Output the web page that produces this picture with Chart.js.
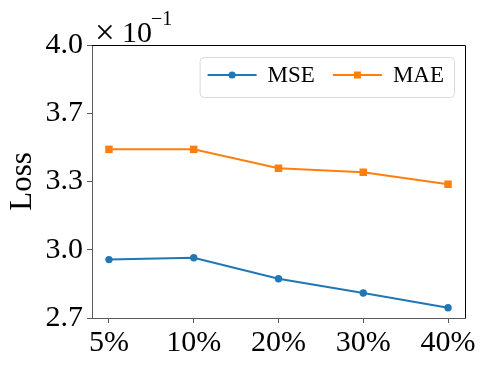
<!doctype html>
<html lang="en">
<head>
  <meta charset="utf-8">
  <title>Loss vs ratio</title>
  <style type="text/css">
    html, body {
      margin: 0;
      padding: 0;
      background: #fff;
    }
    #wrap {
      width: 488px;
      height: 366px;
    }
  </style>
</head>
<body>
  <div id="wrap">
    <canvas id="chart_loss" width="488" height="366"></canvas>
  </div>

  <script src="https://cdn.jsdelivr.net/npm/chart.js"></script>
  <script>
    const xLabels = ['5%', '10%', '20%', '30%', '40%'];
    const mseValues = [2.978, 2.987, 2.887, 2.819, 2.749];
    const maeValues = [3.503, 3.503, 3.413, 3.394, 3.337];
    const yTicks = [2.7, 3.025, 3.35, 3.675, 4.0];
    const yTickLabels = ['2.7', '3.0', '3.3', '3.7', '4.0'];

    const serif = "'Liberation Serif', 'Times New Roman', serif";
    const spineGrey = '#5a5a5a';

    function toPoints(values) {
      return values.map(function (v, i) { return { x: i, y: v }; });
    }

    // top/right spines, the x10^-1 offset text and a matplotlib-like legend
    const decorations = {
      id: 'decorations',
      afterDraw(chart) {
        const ctx = chart.ctx;
        const area = chart.chartArea;
        ctx.save();

        ctx.strokeStyle = '#000';
        ctx.lineWidth = 1;
        ctx.beginPath();
        ctx.moveTo(area.left, area.top + 0.5);
        ctx.lineTo(area.right + 0.5, area.top + 0.5);
        ctx.lineTo(area.right + 0.5, area.bottom);
        ctx.stroke();

        // offset text
        ctx.fillStyle = '#000';
        ctx.textBaseline = 'alphabetic';
        ctx.textAlign = 'left';
        ctx.font = '35px ' + serif;
        ctx.fillText('\u00d7', area.left + 3, area.top - 1);
        ctx.font = '30px ' + serif;
        ctx.fillText('10', area.left + 30, area.top - 3);
        ctx.font = '20px ' + serif;
        ctx.fillText('\u22121', area.left + 59, area.top - 20);

        // legend
        const sets = chart.data.datasets;
        ctx.font = '23px ' + serif;
        const handle = 49, padL = 8, padR = 10, gapText = 11, gapItem = 18;
        let boxW = padL + padR;
        sets.forEach(function (ds, i) {
          boxW += handle + gapText + ctx.measureText(ds.label).width;
          if (i < sets.length - 1) boxW += gapItem;
        });
        const boxH = 40;
        const bx = area.right - 11 - boxW;
        const by = area.top + 12;
        ctx.beginPath();
        ctx.roundRect(bx + 0.5, by + 0.5, boxW, boxH, 4);
        ctx.fillStyle = 'rgba(255,255,255,0.8)';
        ctx.fill();
        ctx.strokeStyle = '#d9d9d9';
        ctx.stroke();

        let cx = bx + padL;
        const cy = by + boxH / 2 - 2;
        sets.forEach(function (ds) {
          ctx.strokeStyle = ds.borderColor;
          ctx.lineWidth = 2;
          ctx.beginPath();
          ctx.moveTo(cx, cy);
          ctx.lineTo(cx + handle, cy);
          ctx.stroke();
          ctx.fillStyle = ds.borderColor;
          const mx = cx + handle / 2;
          if (ds.pointStyle === 'rect') {
            ctx.fillRect(mx - 3.5, cy - 3.5, 7, 7);
          } else {
            ctx.beginPath();
            ctx.arc(mx, cy, 3.6, 0, Math.PI * 2);
            ctx.fill();
          }
          cx += handle + gapText;
          ctx.fillStyle = '#000';
          ctx.textBaseline = 'middle';
          ctx.fillText(ds.label, cx, cy + 1);
          cx += ctx.measureText(ds.label).width + gapItem;
        });

        ctx.restore();
      }
    };

    const config_loss = {
      type: 'line',
      data: {
        datasets: [{
          label: 'MSE',
          data: toPoints(mseValues),
          borderColor: '#1f77b4',
          backgroundColor: '#1f77b4',
          borderWidth: 2,
          pointStyle: 'circle',
          pointRadius: 3.7,
          pointBorderWidth: 0,
          tension: 0
        }, {
          label: 'MAE',
          data: toPoints(maeValues),
          borderColor: '#ff7f0e',
          backgroundColor: '#ff7f0e',
          borderWidth: 2,
          pointStyle: 'rect',
          pointRadius: 5.3,
          pointBorderWidth: 0,
          tension: 0
        }]
      },
      options: {
        responsive: false,
        animation: false,
        events: [],
        layout: {
          padding: { top: 45, right: 23, left: 0, bottom: 0 }
        },
        plugins: {
          legend: { display: false },
          tooltip: { enabled: false }
        },
        scales: {
          x: {
            type: 'linear',
            min: -0.2,
            max: 4.2,
            afterBuildTicks(scale) {
              scale.ticks = xLabels.map(function (_, i) { return { value: i }; });
            },
            afterFit(scale) {
              scale.height = 48;
            },
            ticks: {
              autoSkip: false,
              maxRotation: 0,
              color: '#000',
              padding: 2,
              font: { family: serif, size: 30 },
              callback: function (value) { return xLabels[value]; }
            },
            grid: {
              drawOnChartArea: false,
              drawTicks: true,
              tickLength: 5,
              tickColor: spineGrey
            },
            border: { display: true, color: spineGrey, width: 1 }
          },
          y: {
            min: 2.7,
            max: 4.0,
            afterBuildTicks(scale) {
              scale.ticks = yTicks.map(function (v) { return { value: v }; });
            },
            afterFit(scale) {
              scale.width = 92;
            },
            ticks: {
              autoSkip: false,
              color: '#000',
              padding: 4,
              font: { family: serif, size: 30 },
              callback: function (value, index) { return yTickLabels[index]; }
            },
            grid: {
              drawOnChartArea: false,
              drawTicks: true,
              tickLength: 5,
              tickColor: spineGrey
            },
            border: { display: true, color: spineGrey, width: 1 },
            title: {
              display: true,
              text: 'Loss',
              color: '#000',
              padding: { top: 4, bottom: 0 },
              font: { family: serif, size: 31 }
            }
          }
        }
      },
      plugins: [decorations]
    };

    const chart_loss = new Chart(
      document.getElementById('chart_loss'),
      config_loss
    );
  </script>
</body>
</html>
